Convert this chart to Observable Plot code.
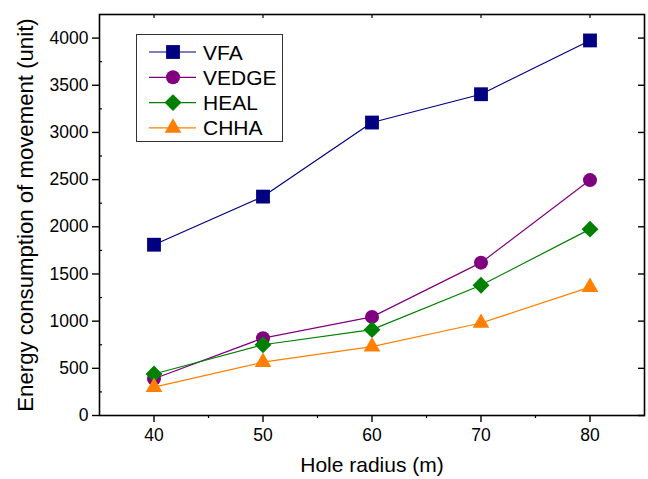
<!DOCTYPE html>
<html><head><meta charset="utf-8">
<script src="https://cdn.jsdelivr.net/npm/d3@7"></script>
<script src="https://cdn.jsdelivr.net/npm/@observablehq/plot@0.6"></script>
<style>
body{margin:0;background:#fff;font-family:"Liberation Sans",Arial,sans-serif;}
#wrap{position:relative;width:648px;height:479px;overflow:hidden;}
#legend{position:absolute;left:136px;top:34px;}
</style></head><body><div id="wrap"></div>
<script>
const radii = [40, 50, 60, 70, 80];
const seriesNames = ["VFA", "VEDGE", "HEAL", "CHHA"];
const vfa = [1810, 2320, 3105, 3405, 3975];
const vedge = [390, 820, 1045, 1620, 2495];
const heal = [440, 750, 910, 1380, 1975];
const chha = [300, 565, 730, 980, 1360];
const colors = ["#000080", "#800080", "#008000", "#ff8000"];
const symbols = ["square", "circle", "diamond2", "triangle"];
const symbolR = [7.8, 7, 7.6, 6.2];
const yMajor = [0, 500, 1000, 1500, 2000, 2500, 3000, 3500, 4000];
const yMinor = [250, 750, 1250, 1750, 2250, 2750, 3250, 3750];
const xMajor = [40, 50, 60, 70, 80];
const xMinor = [45, 55, 65, 75];
const xLabel = "Hole radius (m)";
const yLabel = "Energy consumption of movement (unit)";

const allValues = [vfa, vedge, heal, chha];
const rows = [];
seriesNames.forEach((s, i) => radii.forEach((r, j) => rows.push({series: s, idx: i, radius: r, value: allValues[i][j]})));

const marks = [];
seriesNames.forEach((s, i) => {
  const d = rows.filter(r => r.series === s);
  marks.push(Plot.line(d, {x: "radius", y: "value", stroke: colors[i], strokeWidth: 1.2}));
  marks.push(Plot.dot(d, {x: "radius", y: "value", symbol: () => symbols[i], fill: colors[i], stroke: "none", r: symbolR[i]}));
});

const chart = Plot.plot({
  width: 648, height: 479,
  marginLeft: 99, marginRight: 4, marginTop: 14, marginBottom: 64,
  style: {fontFamily: "'Liberation Sans', Arial, sans-serif", fontSize: "17.5px", color: "#000", background: "#fff"},
  x: {domain: [35, 85]},
  y: {domain: [0, 4250]},
  symbol: {type: "identity"},
  marks: [
    ...marks,
    Plot.frame({stroke: "#000", strokeWidth: 1.6}),
    Plot.axisY({ticks: yMajor, tickSize: 7, tickPadding: 4, label: null, tickFormat: d => String(d), strokeWidth: 1.4}),
    Plot.axisY({ticks: yMinor, tickSize: -3, tickFormat: () => "", label: null, strokeWidth: 1.2}),
    Plot.axisY({anchor: "right", ticks: yMajor, tickSize: -7, tickFormat: () => "", label: null, strokeWidth: 1.4}),
    Plot.axisX({ticks: xMajor, tickSize: 7, tickPadding: 6, label: null, tickFormat: d => String(d), strokeWidth: 1.4}),
    Plot.axisX({ticks: xMinor, tickSize: 3, tickFormat: () => "", label: null, strokeWidth: 1.2}),
    Plot.axisX({anchor: "top", ticks: xMajor, tickSize: -3, tickFormat: () => "", label: null, strokeWidth: 1.2}),
    Plot.axisX({ticks: [], label: xLabel, labelAnchor: "center", labelArrow: "none", labelOffset: 56, fontSize: 21, tickSize: 0}),
    Plot.axisY({ticks: [], label: yLabel, labelAnchor: "center", labelArrow: "none", labelOffset: 82, fontSize: 22.2, tickSize: 0})
  ]
});
document.getElementById("wrap").appendChild(chart);

// legend
const lw = 147, lh = 108;
const leg = d3.select("#wrap").append("svg").attr("id", "legend").attr("width", lw).attr("height", lh);
leg.append("rect").attr("x", 0.5).attr("y", 0.5).attr("width", lw - 1).attr("height", lh - 1)
  .attr("fill", "#fff").attr("stroke", "#333").attr("stroke-width", 1);
const symMap = {square: d3.symbolSquare, circle: d3.symbolCircle, diamond2: d3.symbolDiamond2, triangle: d3.symbolTriangle};
seriesNames.forEach((s, i) => {
  const cy = 18 + i * 25.3;
  const g = leg.append("g");
  g.append("line").attr("x1", 13).attr("x2", 60).attr("y1", cy).attr("y2", cy).attr("stroke", colors[i]).attr("stroke-width", 1.2);
  g.append("path").attr("transform", `translate(37,${cy})`)
    .attr("d", d3.symbol(symMap[symbols[i]], Math.PI * symbolR[i] * symbolR[i])())
    .attr("fill", colors[i]);
  g.append("text").attr("x", 67).attr("y", cy).attr("dy", "0.36em").attr("font-size", 21)
    .attr("font-family", "'Liberation Sans', Arial, sans-serif").attr("fill", "#000").text(s);
});
</script></body></html>
